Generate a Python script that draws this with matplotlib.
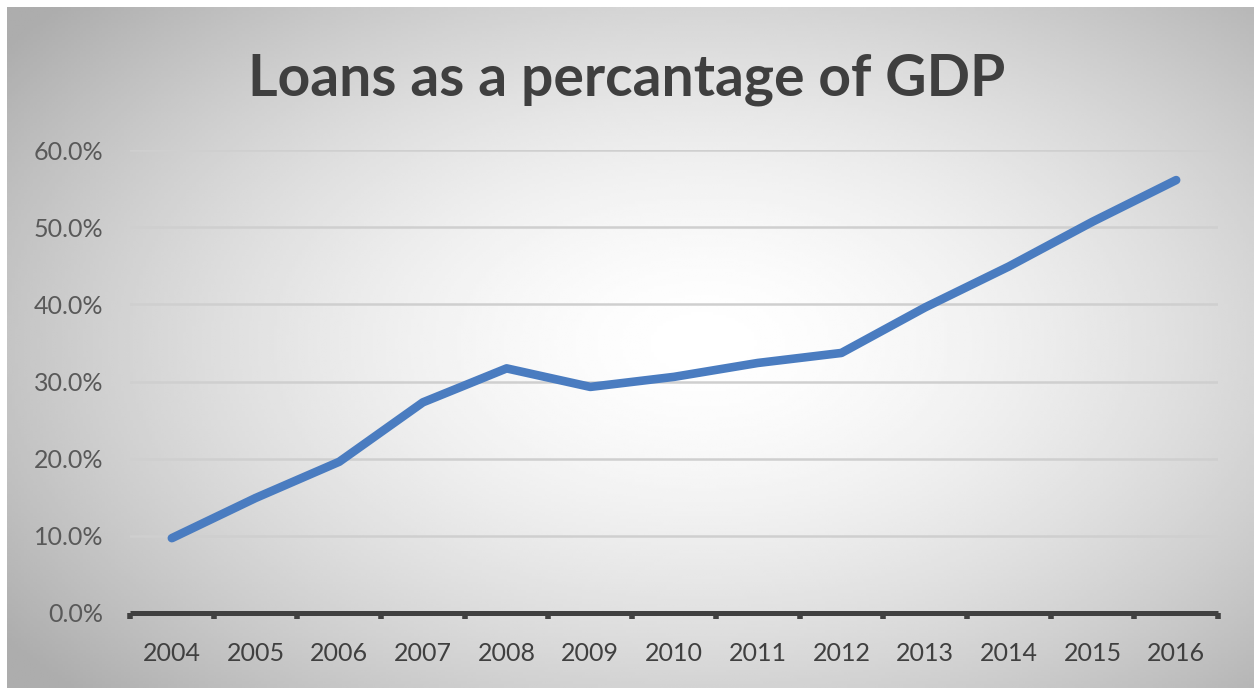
import numpy as np
import matplotlib
matplotlib.use("Agg")
import matplotlib.pyplot as plt
from matplotlib.ticker import FuncFormatter, FixedLocator

# loans / GDP by year
years = ["2004", "2005", "2006", "2007", "2008", "2009", "2010",
         "2011", "2012", "2013", "2014", "2015", "2016"]
loans_pct = [0.097, 0.149, 0.196, 0.273, 0.317, 0.293, 0.306,
             0.324, 0.337, 0.396, 0.449, 0.507, 0.561]
y_ticks = [0.0, 0.1, 0.2, 0.3, 0.4, 0.5, 0.6]

W, H = 1254, 688
fig = plt.figure(figsize=(W / 100, H / 100), dpi=100)
fig.patch.set_facecolor("white")

# soft radial background, white in the middle fading to grey
bg = fig.add_axes([7 / W, 0, 1 - 7 / W, 1 - 7 / H], zorder=0)
gx, gy = np.meshgrid(np.linspace(0, W, 400), np.linspace(0, H, 240))
r = np.sqrt(((gx - 700) / 720) ** 2 + ((gy - 340) / 430) ** 2)
shade = 1 - 0.24 * np.clip(r, 0, 1.2) ** 1.6
bg.imshow(shade, cmap="gray", vmin=0, vmax=1, aspect="auto",
          extent=[0, W, H, 0], interpolation="bilinear")
bg.axis("off")

ax = fig.add_axes([130 / W, 1 - 613 / H, (1218 - 130) / W, (613 - 150) / H], zorder=1)
ax.set_facecolor("none")

x = np.arange(len(years))
ax.plot(x, loans_pct, color="#4a7cc0", lw=6.2, solid_capstyle="round",
        solid_joinstyle="round", zorder=3)

ax.set_xlim(-0.5, len(years) - 0.5)
ax.set_ylim(0, 0.6)
ax.set_yticks(y_ticks)
ax.yaxis.set_major_formatter(FuncFormatter(lambda v, _: f"{v * 100:.1f}%"))
ax.grid(axis="y", color="#cfcfcf", lw=1.8, zorder=1)
ax.set_axisbelow(True)

ax.set_xticks(x)
ax.set_xticklabels(years)
ax.xaxis.set_minor_locator(FixedLocator(np.arange(-0.5, len(years), 1)))
ax.tick_params(axis="x", which="major", length=0, pad=21,
               labelsize=18, labelcolor="#404040")
ax.tick_params(axis="x", which="minor", length=4, width=4, color="#404040")
ax.tick_params(axis="y", length=0, pad=19, labelsize=18, labelcolor="#595959")

for side in ["top", "right", "left"]:
    ax.spines[side].set_visible(False)
ax.spines["bottom"].set_color("#404040")
ax.spines["bottom"].set_linewidth(3.6)
ax.spines["bottom"].set_capstyle("butt")

fig.text(627 / W, 1 - 95 / H, "Loans as a percantage of GDP", ha="center",
         va="baseline", fontsize=41, fontweight="bold", color="#3f3f3f",
         family="Lato")

for lab in ax.get_xticklabels() + ax.get_yticklabels():
    lab.set_family("Lato")

fig.savefig("out.png", dpi=100)
